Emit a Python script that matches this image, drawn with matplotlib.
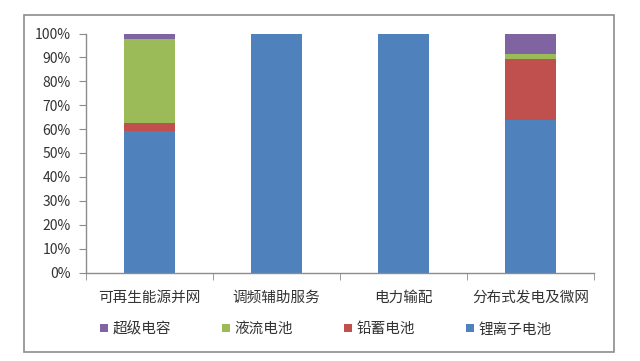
import matplotlib
matplotlib.use("Agg")
import matplotlib.pyplot as plt
from matplotlib.patches import Rectangle, Patch
import numpy as np

plt.rcParams['font.family'] = ['Noto Sans CJK SC', 'DejaVu Sans']

categories = ["可再生能源并网", "调频辅助服务", "电力输配", "分布式发电及微网"]
li_ion = [59.0, 100.0, 100.0, 64.0]
lead_acid = [3.5, 0.0, 0.0, 25.5]
flow = [35.0, 0.0, 0.0, 2.0]
supercap = [2.5, 0.0, 0.0, 8.5]
series_names = ["锂离子电池", "铅蓄电池", "液流电池", "超级电容"]
colors = ["#4F81BD", "#C0504D", "#9BBB59", "#8064A2"]
yticks = [0, 10, 20, 30, 40, 50, 60, 70, 80, 90, 100]

fig = plt.figure(figsize=(6.4, 3.61), dpi=100)
fig.patch.set_facecolor("white")
fig.add_artist(Rectangle((24/640, 9/361), 590/640, 337/361, transform=fig.transFigure,
                         fill=False, edgecolor="#8c8c8c", linewidth=1.2))

ax = fig.add_axes([86/640, 88.5/361, 508/640, 239/361])
x = np.arange(len(categories))
bottom = np.zeros(len(categories))
handles = []
for vals, name, c in zip([li_ion, lead_acid, flow, supercap], series_names, colors):
    ax.bar(x, vals, width=0.4, bottom=bottom, color=c, edgecolor="none")
    bottom += np.array(vals)
    handles.append(Patch(facecolor=c, edgecolor="none", label=name))

ax.set_xlim(-0.5, len(categories) - 0.5)
ax.set_ylim(0, 100)
ax.set_yticks(yticks)
ax.set_yticklabels([f"{v}%" for v in yticks], fontsize=10, color="#333333")
ax.set_xticks(x)
ax.set_xticklabels(categories, fontsize=10.5, color="#333333")
ax.set_xticks(np.arange(-0.5, len(categories)), minor=True)
ax.tick_params(axis='x', which='major', length=0, pad=13)
ax.tick_params(axis='x', which='minor', length=5, color="#8c8c8c", direction='out')
ax.tick_params(axis='y', length=5, color="#8c8c8c", direction='out', pad=6)
for s in ["top", "right"]:
    ax.spines[s].set_visible(False)
for s in ["left", "bottom"]:
    ax.spines[s].set_color("#8c8c8c")
    ax.spines[s].set_linewidth(1.0)

order = [3, 2, 1, 0]
fig.legend([handles[i] for i in order], [series_names[i] for i in order],
           loc="center left", bbox_to_anchor=(87/640, 32/361), ncol=4, frameon=False,
           fontsize=10.5, handlelength=0.55, handleheight=0.55, handletextpad=0.3,
           columnspacing=3.5, labelcolor="#333333")

fig.savefig("out.png", dpi=100, facecolor="white")
